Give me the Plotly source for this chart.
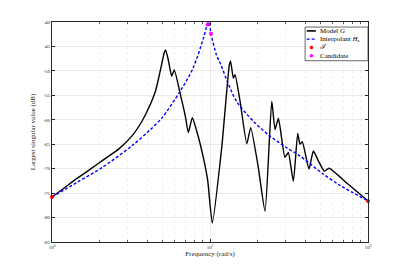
import plotly.graph_objects as go

# Model G (largest singular value, dB)
g_freq = [1.0, 1.2, 1.44, 1.75, 2.07, 2.64, 3.21, 3.71, 4.09, 4.51, 4.73, 4.97, 5.12, 5.24,
          5.45, 5.72, 5.94, 6.46, 7.0, 7.29, 7.73, 8.24, 9.07, 9.67, 10.34, 11.86, 13.25,
          13.5, 14.05, 14.4, 15.5, 17.1, 18.1, 20.2, 22.3, 24.6, 25.8, 27.1, 29.8, 31.3,
          33.7, 35.9, 37.1, 38.4, 42.3, 45.1, 48.5, 52.9, 56.7, 75.0, 100.0]
g_db = [-75.8, -73.9, -72.0, -70.1, -68.4, -66.0, -63.3, -60.3, -57.6, -54.2, -51.5, -48.3,
        -46.4, -45.7, -47.8, -51.1, -49.8, -54.5, -59.5, -62.6, -59.6, -62.3, -67.7, -72.4,
        -81.1, -65.7, -48.8, -48.0, -51.5, -50.8, -56.2, -64.9, -61.6, -69.7, -78.7, -56.2,
        -62.0, -59.7, -67.7, -66.7, -72.6, -62.8, -65.0, -64.5, -70.1, -66.4, -68.4, -70.5,
        -69.9, -73.2, -76.6]

# Interpolant Hs
h_freq = [1.0, 1.44, 2.07, 3.21, 4.2, 4.97, 6.46, 7.8, 9.07, 9.6, 9.85, 10.15, 11.0, 11.6,
          13.0, 14.7, 18.8, 23.9, 30.5, 37.1, 52.0, 66.4, 100.0]
h_db = [-75.8, -72.8, -69.8, -65.3, -62.0, -59.6, -54.2, -49.5, -43.4, -40.6, -40.0, -42.4,
        -46.8, -48.4, -52.5, -56.2, -60.3, -63.3, -65.7, -67.4, -71.1, -73.4, -76.6]

# Interpolation points I
i_freq = [1.0, 100.0]
i_db = [-75.8, -76.6]

# Candidates
c_freq = [9.67, 10.15]
c_db = [-40.5, -42.4]

y_ticks = [-85, -80, -75, -70, -65, -60, -55, -50, -45, -40]
x_ticks = [1, 10, 100]
x_ticktext = ["10<sup>0</sup>", "10<sup>1</sup>", "10<sup>2</sup>"]

legend_labels = ["Model <i>G</i>", "Interpolant <i>H</i><sub>s</sub>", "<i>ℐ</i>", "Candidate"]

serif = "Liberation Serif, DejaVu Serif, serif"
ink = "#262626"

fig = go.Figure()
fig.add_trace(go.Scatter(x=g_freq, y=g_db, mode="lines", name=legend_labels[0],
                         line=dict(color="black", width=1.4, shape="spline", smoothing=0.5)))
fig.add_trace(go.Scatter(x=h_freq, y=h_db, mode="lines", name=legend_labels[1],
                         line=dict(color="#0000ff", width=1.4, dash="3px,2px", shape="spline", smoothing=0.8)))
fig.add_trace(go.Scatter(x=i_freq, y=i_db, mode="markers", name=legend_labels[2],
                         marker=dict(color="#ff0000", size=4), cliponaxis=False))
fig.add_trace(go.Scatter(x=c_freq, y=c_db, mode="markers", name=legend_labels[3],
                         marker=dict(color="#ff00ff", size=4), cliponaxis=False))

# compact legend box (paper coordinates), drawn like MATLAB's legend
plot_w, plot_h = 316.0, 222.0
box = dict(x0=0.801, x1=1.0, y0=0.824, y1=0.977)
rows = [0.9595, 0.922, 0.8842, 0.8468]
shapes = [dict(type="rect", xref="paper", yref="paper", layer="above",
               fillcolor="white", line=dict(color=ink, width=0.7), **box)]
shapes.append(dict(type="line", xref="paper", yref="paper", x0=0.806, x1=0.835,
                   y0=rows[0], y1=rows[0], line=dict(color="black", width=1.6)))
shapes.append(dict(type="line", xref="paper", yref="paper", x0=0.806, x1=0.835,
                   y0=rows[1], y1=rows[1], line=dict(color="#0000ff", width=1.4, dash="3px,2px")))
rx, ry = 1.8 / plot_w, 1.8 / plot_h
for row, col in ((rows[2], "#ff0000"), (rows[3], "#ff00ff")):
    shapes.append(dict(type="circle", xref="paper", yref="paper", fillcolor=col,
                       line=dict(color=col, width=0),
                       x0=0.821 - rx, x1=0.821 + rx, y0=row - ry, y1=row + ry))
annotations = [dict(xref="paper", yref="paper", x=0.841, y=r, text=t, showarrow=False,
                    xanchor="left", yanchor="middle", font=dict(size=7, color="black", family=serif))
               for r, t in zip(rows, legend_labels)]

# the page body has an 8px margin; compensate so the plot sits where the reference has it
fig.update_layout(
    width=399, height=264,
    margin=dict(l=44, r=39, t=12, b=30),
    paper_bgcolor="white", plot_bgcolor="white",
    font=dict(family=serif, size=6, color=ink),
    showlegend=False,
    shapes=shapes, annotations=annotations,
)
fig.update_xaxes(
    type="log", range=[0, 2],
    tickvals=x_ticks, ticktext=x_ticktext, tickfont=dict(size=5),
    ticks="inside", ticklen=3, tickcolor=ink,
    showline=True, linecolor=ink, linewidth=0.8, mirror="ticks",
    showgrid=True, gridcolor="#e8e8e8", gridwidth=0.5,
    minor=dict(dtick="D1", ticks="inside", ticklen=2, tickcolor="#555555",
               showgrid=True, gridcolor="#efefef", griddash="dot", gridwidth=0.5),
    title=dict(text="Frequency (rad/s)", font=dict(size=7, color=ink), standoff=2),
    zeroline=False,
)
fig.update_yaxes(
    range=[-85, -40], tickvals=y_ticks, ticktext=[str(v) for v in y_ticks],
    tickfont=dict(size=5),
    ticks="inside", ticklen=3, tickcolor=ink,
    showline=True, linecolor=ink, linewidth=0.8, mirror="ticks",
    showgrid=True, gridcolor="#eaeaea", gridwidth=0.6,
    title=dict(text="Largest singular value (dB)", font=dict(size=7, color=ink), standoff=6),
    zeroline=False,
)

fig.write_html("out.html")
